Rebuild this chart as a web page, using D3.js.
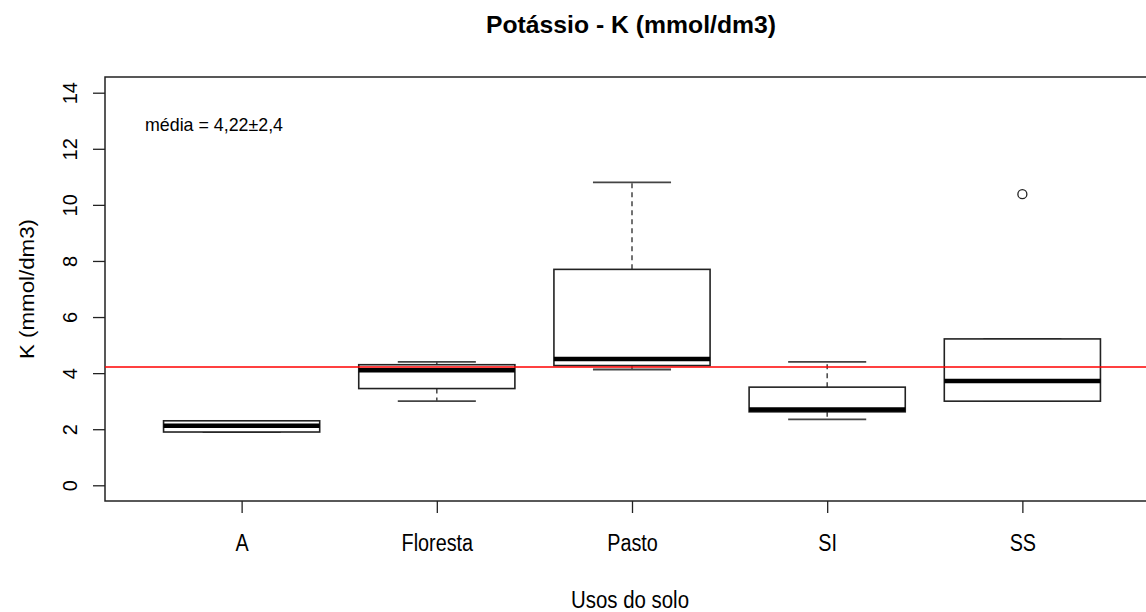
<!DOCTYPE html>
<html>
<head>
<meta charset="utf-8">
<script src="https://cdn.jsdelivr.net/npm/d3@7"></script>
<style>
  html, body { margin: 0; padding: 0; background: #ffffff; }
  svg { display: block; }
  text { font-family: "Liberation Sans", Arial, sans-serif; fill: #000; }
</style>
</head>
<body>
<svg id="chart" width="1146" height="612"></svg>
<script>
// Potassium (K) by land use: five-number summaries per category
const categories = ["A", "Floresta", "Pasto", "SI", "SS"];
const whiskerLow = [1.9, 3.0, 4.13, 2.35, 3.0];
const hingeLow = [1.9, 3.45, 4.27, 2.62, 3.0];
const medians = [2.12, 4.1, 4.5, 2.7, 3.72];
const hingeHigh = [2.3, 4.3, 7.7, 3.5, 5.22];
const whiskerHigh = [2.3, 4.4, 10.8, 4.4, 5.22];
const outlierCats = ["SS"];
const outlierVals = [10.38];
const overallMean = 4.22;
const meanLabel = "média = 4,22±2,4";
const yTicks = [0, 2, 4, 6, 8, 10, 12, 14];

const svg = d3.select("#chart");

// plot region (right edge runs past the window)
const plotLeft = 105, plotRight = 1159, plotTop = 77, plotBottom = 501;

const x = d3.scaleLinear().domain([0.3, 5.7]).range([plotLeft, plotRight]);
const y = d3.scaleLinear().domain([-0.56, 14.56]).range([plotBottom, plotTop]);
const xPos = c => x(categories.indexOf(c) + 1);
const unit = x(1) - x(0);
const boxW = 0.8 * unit;
const stapleW = 0.5 * boxW;

const ink = "#222";

// frame
svg.append("rect")
  .attr("x", plotLeft).attr("y", plotTop)
  .attr("width", plotRight - plotLeft).attr("height", plotBottom - plotTop)
  .attr("fill", "none").attr("stroke", ink).attr("stroke-width", 1.5);

// y axis
const yAxis = d3.axisLeft(y).tickValues(yTicks).tickSize(12).tickFormat(d3.format("d"));
const gy = svg.append("g").attr("transform", `translate(${plotLeft},0)`).call(yAxis);
gy.select(".domain").remove();
gy.selectAll(".tick line").attr("stroke", ink).attr("stroke-width", 1.3);
gy.selectAll(".tick text")
  .attr("x", null).attr("dy", null)
  .attr("transform", "translate(-35,0) rotate(-90)")
  .attr("text-anchor", "middle")
  .attr("dominant-baseline", "central")
  .style("font-size", "20px")
  .style("font-family", "'Liberation Sans', Arial, sans-serif");

// x axis
const xAxis = d3.axisBottom(x).tickValues(categories.map((c, i) => i + 1)).tickSize(12)
  .tickFormat(d => categories[d - 1]);
const gx = svg.append("g").attr("transform", `translate(0,${plotBottom})`).call(xAxis);
gx.select(".domain").remove();
gx.selectAll(".tick line").attr("stroke", ink).attr("stroke-width", 1.3);
gx.selectAll(".tick text")
  .attr("y", 42).attr("dy", null)
  .attr("dominant-baseline", "central")
  .style("font-size", "23px")
  .style("font-family", "'Liberation Sans', Arial, sans-serif");

// condense horizontal labels
gx.selectAll(".tick text").each(function () {
  const w = this.getComputedTextLength();
  d3.select(this).attr("textLength", w * 0.86).attr("lengthAdjust", "spacingAndGlyphs");
});

// boxes
const boxes = svg.append("g");
categories.forEach((c, i) => {
  const cx = xPos(c);
  const g = boxes.append("g");
  // whiskers (dashed)
  g.append("line")
    .attr("x1", cx).attr("x2", cx)
    .attr("y1", y(hingeHigh[i])).attr("y2", y(whiskerHigh[i]))
    .attr("stroke", "#444").attr("stroke-width", 1.5).attr("stroke-dasharray", "5,4");
  g.append("line")
    .attr("x1", cx).attr("x2", cx)
    .attr("y1", y(hingeLow[i])).attr("y2", y(whiskerLow[i]))
    .attr("stroke", "#444").attr("stroke-width", 1.5).attr("stroke-dasharray", "5,4");
  // staples
  [whiskerHigh[i], whiskerLow[i]].forEach(v => {
    g.append("line")
      .attr("x1", cx - stapleW / 2).attr("x2", cx + stapleW / 2)
      .attr("y1", y(v)).attr("y2", y(v))
      .attr("stroke", "#444").attr("stroke-width", 1.8);
  });
  // box
  g.append("rect")
    .attr("x", cx - boxW / 2).attr("width", boxW)
    .attr("y", y(hingeHigh[i])).attr("height", y(hingeLow[i]) - y(hingeHigh[i]))
    .attr("fill", "#fff").attr("stroke", ink).attr("stroke-width", 1.6);
  // median
  g.append("line")
    .attr("x1", cx - boxW / 2).attr("x2", cx + boxW / 2)
    .attr("y1", y(medians[i])).attr("y2", y(medians[i]))
    .attr("stroke", "#000").attr("stroke-width", 4.5);
});

// outliers
outlierCats.forEach((c, k) => {
  svg.append("circle")
    .attr("cx", xPos(c)).attr("cy", y(outlierVals[k])).attr("r", 4.5)
    .attr("fill", "none").attr("stroke", ink).attr("stroke-width", 1.3);
});

// overall mean reference line
svg.append("line")
  .attr("x1", plotLeft).attr("x2", plotRight)
  .attr("y1", y(overallMean)).attr("y2", y(overallMean))
  .attr("stroke", "#ff0000").attr("stroke-width", 1.5);

// mean annotation
svg.append("text")
  .attr("x", 145).attr("y", 124)
  .attr("dominant-baseline", "central")
  .attr("textLength", 138).attr("lengthAdjust", "spacingAndGlyphs")
  .style("font-size", "19px")
  .text(meanLabel);

// title
svg.append("text")
  .attr("x", 631).attr("y", 24)
  .attr("text-anchor", "middle").attr("dominant-baseline", "central")
  .attr("textLength", 290).attr("lengthAdjust", "spacingAndGlyphs")
  .style("font-size", "24px").style("font-weight", "bold")
  .text("Potássio - K (mmol/dm3)");

// axis titles
svg.append("text")
  .attr("x", 630).attr("y", 600)
  .attr("text-anchor", "middle").attr("dominant-baseline", "central")
  .attr("textLength", 118).attr("lengthAdjust", "spacingAndGlyphs")
  .style("font-size", "23px")
  .text("Usos do solo");

svg.append("text")
  .attr("transform", `translate(27,${(plotTop + plotBottom) / 2}) rotate(-90)`)
  .attr("text-anchor", "middle").attr("dominant-baseline", "central")
  .attr("textLength", 140).attr("lengthAdjust", "spacingAndGlyphs")
  .style("font-size", "20px")
  .text("K (mmol/dm3)");
</script>
</body>
</html>
